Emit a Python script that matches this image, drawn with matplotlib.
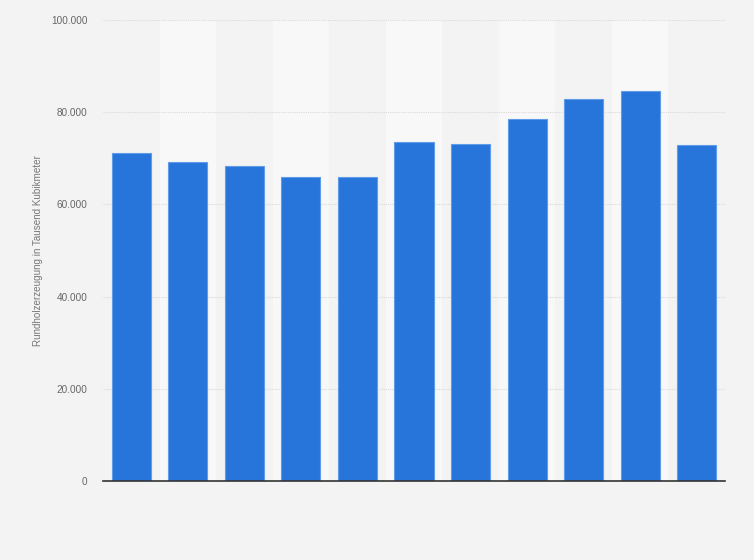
import matplotlib
matplotlib.use("Agg")
import matplotlib.pyplot as plt
from matplotlib.ticker import FuncFormatter

categories = ["1", "2", "3", "4", "5", "6", "7", "8", "9", "10", "11"]
values = [71100, 69100, 68300, 65900, 65900, 73500, 73000, 78450, 82800, 84500, 72800]
yticks = [0, 20000, 40000, 60000, 80000, 100000]

plt.rcParams['font.family'] = ['Liberation Sans', 'DejaVu Sans']

fig = plt.figure(figsize=(7.54, 5.6), dpi=100)
fig.patch.set_facecolor('#f3f3f3')
ax = fig.add_axes([103/754, 1-481/560, (725-103)/754, (481-20)/560])
ax.set_facecolor('#f3f3f3')

x = list(range(len(categories)))
for i in x:
    if i % 2 == 1:
        ax.axvspan(i-0.5, i+0.5, color='#f8f8f8', zorder=0, lw=0)

ax.bar(x, values, width=0.69, color='#2775db', edgecolor='#5e9be8', linewidth=0.8, zorder=3)

ax.set_xlim(-0.5, len(categories)-0.5)
ax.set_ylim(0, 100000)
ax.set_yticks(yticks)
ax.yaxis.set_major_formatter(FuncFormatter(lambda v, p: f"{int(v):,}".replace(",", ".")))
ax.set_xticks([])
ax.grid(axis='y', color='#dadada', linestyle=(0, (1, 1)), linewidth=0.8, zorder=1)
ax.tick_params(axis='y', length=0, pad=11, labelsize=7.2, labelcolor='#666666')

for s in ['top', 'right', 'left']:
    ax.spines[s].set_visible(False)
ax.spines['bottom'].set_color('#333333')
ax.spines['bottom'].set_linewidth(1.2)
ax.spines['bottom'].set_zorder(4)

ax.set_ylabel("Rundholzerzeugung in Tausend Kubikmeter", fontsize=7.1, color='#777777', labelpad=6)

fig.savefig("out.png", dpi=100, facecolor=fig.get_facecolor())
